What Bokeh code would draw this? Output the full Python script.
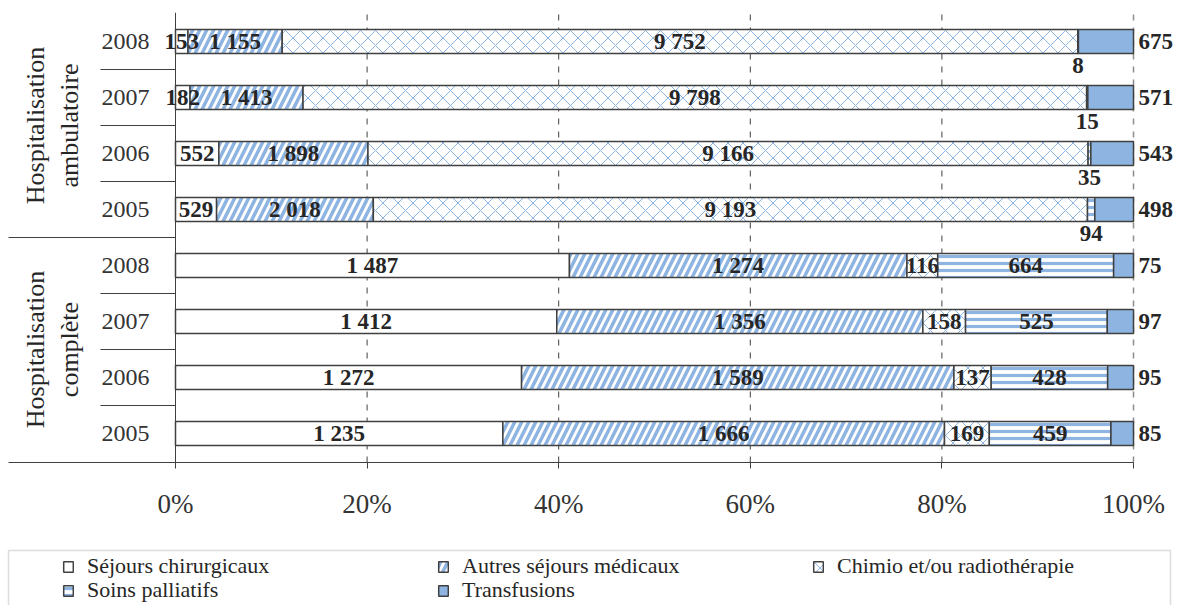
import numpy as np
from bokeh.plotting import figure
from bokeh.models import (ColumnDataSource, Range1d, FixedTicker, LinearAxis,
                          Legend, LegendItem, NumeralTickFormatter, BoxAnnotation)
from bokeh.core.properties import value
from bokeh.embed import file_html
from bokeh.resources import INLINE

# ---------------- data ----------------
categories = ["Séjours chirurgicaux", "Autres séjours médicaux",
              "Chimio et/ou radiothérapie", "Soins palliatifs", "Transfusions"]
years = ["2005", "2006", "2007", "2008"]
groups = ["Hospitalisation\ncomplète", "Hospitalisation\nambulatoire"]

# Hospitalisation complète, years 2005..2008
comp_chir = [1235, 1272, 1412, 1487]
comp_autres = [1666, 1589, 1356, 1274]
comp_chimio = [169, 137, 158, 116]
comp_pall = [459, 428, 525, 664]
comp_transf = [85, 95, 97, 75]

# Hospitalisation ambulatoire, years 2005..2008
amb_chir = [529, 552, 182, 153]
amb_autres = [2018, 1898, 1413, 1155]
amb_chimio = [9193, 9166, 9798, 9752]
amb_pall = [94, 35, 15, 8]
amb_transf = [498, 543, 571, 675]

x_ticks = [0, 0.2, 0.4, 0.6, 0.8, 1.0]

# ---------------- layout helpers ----------------
W, H = 1177, 605
PX0, PXW = 175, 958          # pixel of 0% and width of 100%
ROW = 56                     # pixel per category band
FRAME_TOP = 12
AXIS_PX = 462
Y_TOP = 7 + (41 - FRAME_TOP) / ROW
Y_BOT = Y_TOP - (H - FRAME_TOP) / ROW


def xd(px):
    return (px - PX0) / PXW


def yd(py):
    return Y_TOP - (py - FRAME_TOP) / ROW


Y_AXIS = yd(AXIS_PX)
BAR_H = 24 / ROW

series = [
    comp_chir + amb_chir,
    comp_autres + amb_autres,
    comp_chimio + amb_chimio,
    comp_pall + amb_pall,
    comp_transf + amb_transf,
]
vals = np.array(series, dtype=float)          # 5 x 8
totals = vals.sum(axis=0)
shares = vals / totals
rights = np.cumsum(shares, axis=0)
lefts = rights - shares
ys = np.arange(8)                              # complète 2005..2008, ambulatoire 2005..2008

fills = ["white", "white", "white", "white", "#8EB4E2"]
hatches = [None, "/", "x", "-", None]
hatch_scales = [12, 14, 15, 7, 12]
hatch_weights = [1, 3.5, 1, 3.2, 1]
HATCH = "#8EB4E2"
EDGE = "#404040"
TXT = "#262626"
FONT = "'Liberation Serif', 'Times New Roman', serif"

p = figure(width=W, height=H,
           x_range=Range1d(xd(0), xd(W)), y_range=Range1d(Y_BOT, Y_TOP),
           x_axis_type=None, y_axis_type=None,
           toolbar_location=None, output_backend="svg",
           min_border_left=0, min_border_right=0,
           min_border_top=FRAME_TOP, min_border_bottom=0)
p.outline_line_color = None
p.background_fill_color = "white"

# vertical dashed grid lines, limited to the plotting area above the x axis
g_in = x_ticks[1:-1]
p.segment(x0=g_in, x1=g_in, y0=[Y_AXIS] * len(g_in), y1=[Y_TOP] * len(g_in),
          line_color=EDGE, line_dash="6 7", line_width=1)
p.segment(x0=x_ticks[-1:], x1=x_ticks[-1:], y0=[Y_AXIS], y1=[Y_TOP],
          line_color="#8c8c8c", line_dash="6 7", line_width=1.5)

renderers = []
for i, cat in enumerate(categories):
    src = ColumnDataSource(dict(y=ys, left=lefts[i], right=rights[i]))
    kw = {}
    if hatches[i]:
        kw = dict(hatch_pattern=hatches[i], hatch_color=HATCH,
                  hatch_scale=hatch_scales[i], hatch_weight=hatch_weights[i])
    r = p.hbar(y="y", left="left", right="right", height=BAR_H, source=src,
               fill_color=fills[i], line_color=EDGE, line_width=1.5, **kw)
    renderers.append(r)


def fmt(v):
    return f"{int(v):,}".replace(",", " ")


# value labels
cx, cy, ct = [], [], []
rx, ry, rt = [], [], []
for i in range(5):
    for j in range(8):
        v = vals[i, j]
        mid = (lefts[i, j] + rights[i, j]) / 2
        if i == 4:
            rx.append(1.0 + 5 / PXW); ry.append(ys[j]); rt.append(fmt(v))
        elif i == 3 and j >= 4:
            cx.append(mid); cy.append(ys[j] - 24 / ROW); ct.append(fmt(v))
        else:
            cx.append(mid); cy.append(ys[j]); ct.append(fmt(v))

p.text(x=cx, y=cy, text=ct, text_align="center", text_baseline="middle",
       text_font=value(FONT), text_font_style="bold", text_font_size="23px",
       text_color=TXT)
p.text(x=rx, y=ry, text=rt, text_align="left", text_baseline="middle",
       text_font=value(FONT), text_font_style="bold", text_font_size="23px",
       text_color=TXT)

# separators of the category axis
sep_y = [0.5, 1.5, 2.5, 4.5, 5.5, 6.5]
p.segment(x0=[xd(100)] * len(sep_y), x1=[0] * len(sep_y), y0=sep_y, y1=sep_y,
          line_color=EDGE, line_width=1)
p.segment(x0=[xd(8)], x1=[0], y0=[3.5], y1=[3.5], line_color=EDGE, line_width=1)

# group labels
p.text(x=[xd(52), xd(52)], y=[1.5, 5.5], text=groups, angle=np.pi / 2,
       text_align="center", text_baseline="middle",
       text_font=value(FONT), text_font_size="26px", text_color=TXT,
       text_line_height=1.2)

# axes
xaxis = LinearAxis(ticker=FixedTicker(ticks=x_ticks),
                   formatter=NumeralTickFormatter(format="0%"),
                   bounds=(xd(8), 1.0), fixed_location=Y_AXIS)
xaxis.axis_line_color = EDGE
xaxis.major_tick_line_color = EDGE
xaxis.major_tick_out = 6
xaxis.major_tick_in = 0
xaxis.minor_tick_line_color = None
xaxis.major_label_standoff = 20
xaxis.major_label_text_font = FONT
xaxis.major_label_text_font_size = "27px"
xaxis.major_label_text_color = "#333333"
p.add_layout(xaxis, "below")

yaxis = LinearAxis(ticker=FixedTicker(ticks=list(range(8))),
                   major_label_overrides={k: years[k % 4] for k in range(8)},
                   bounds=(Y_AXIS, Y_TOP), fixed_location=0)
yaxis.axis_line_color = EDGE
yaxis.major_tick_line_color = None
yaxis.minor_tick_line_color = None
yaxis.major_label_standoff = 20
yaxis.major_label_text_font = FONT
yaxis.major_label_text_font_size = "24px"
yaxis.major_label_text_color = "#333333"
p.add_layout(yaxis, "left")

# legend frame
p.add_layout(BoxAnnotation(left=xd(8), right=xd(1170), top=yd(550), bottom=yd(640),
                           fill_color=None, line_color="#909090", line_width=1.5))

LEG_H = 20
row_centers = [569, 593]
row_items = [[0, 1, 2], [3, 4]]
for rc, idx in zip(row_centers, row_items):
    leg = Legend(items=[LegendItem(label=categories[k], renderers=[renderers[k]]) for k in idx],
                 location=(62, H - (rc + LEG_H / 2)), orientation="horizontal",
                 glyph_width=12, glyph_height=13, label_standoff=13,
                 label_width=350, label_height=LEG_H, spacing=0, padding=0, margin=0,
                 border_line_color=None, background_fill_alpha=0,
                 label_text_font=FONT, label_text_font_size="22px",
                 label_text_color=TXT, label_text_baseline="middle",
                 label_text_line_height=0.9)
    p.add_layout(leg, "center")

open("out.html", "w").write(file_html(p, INLINE))
